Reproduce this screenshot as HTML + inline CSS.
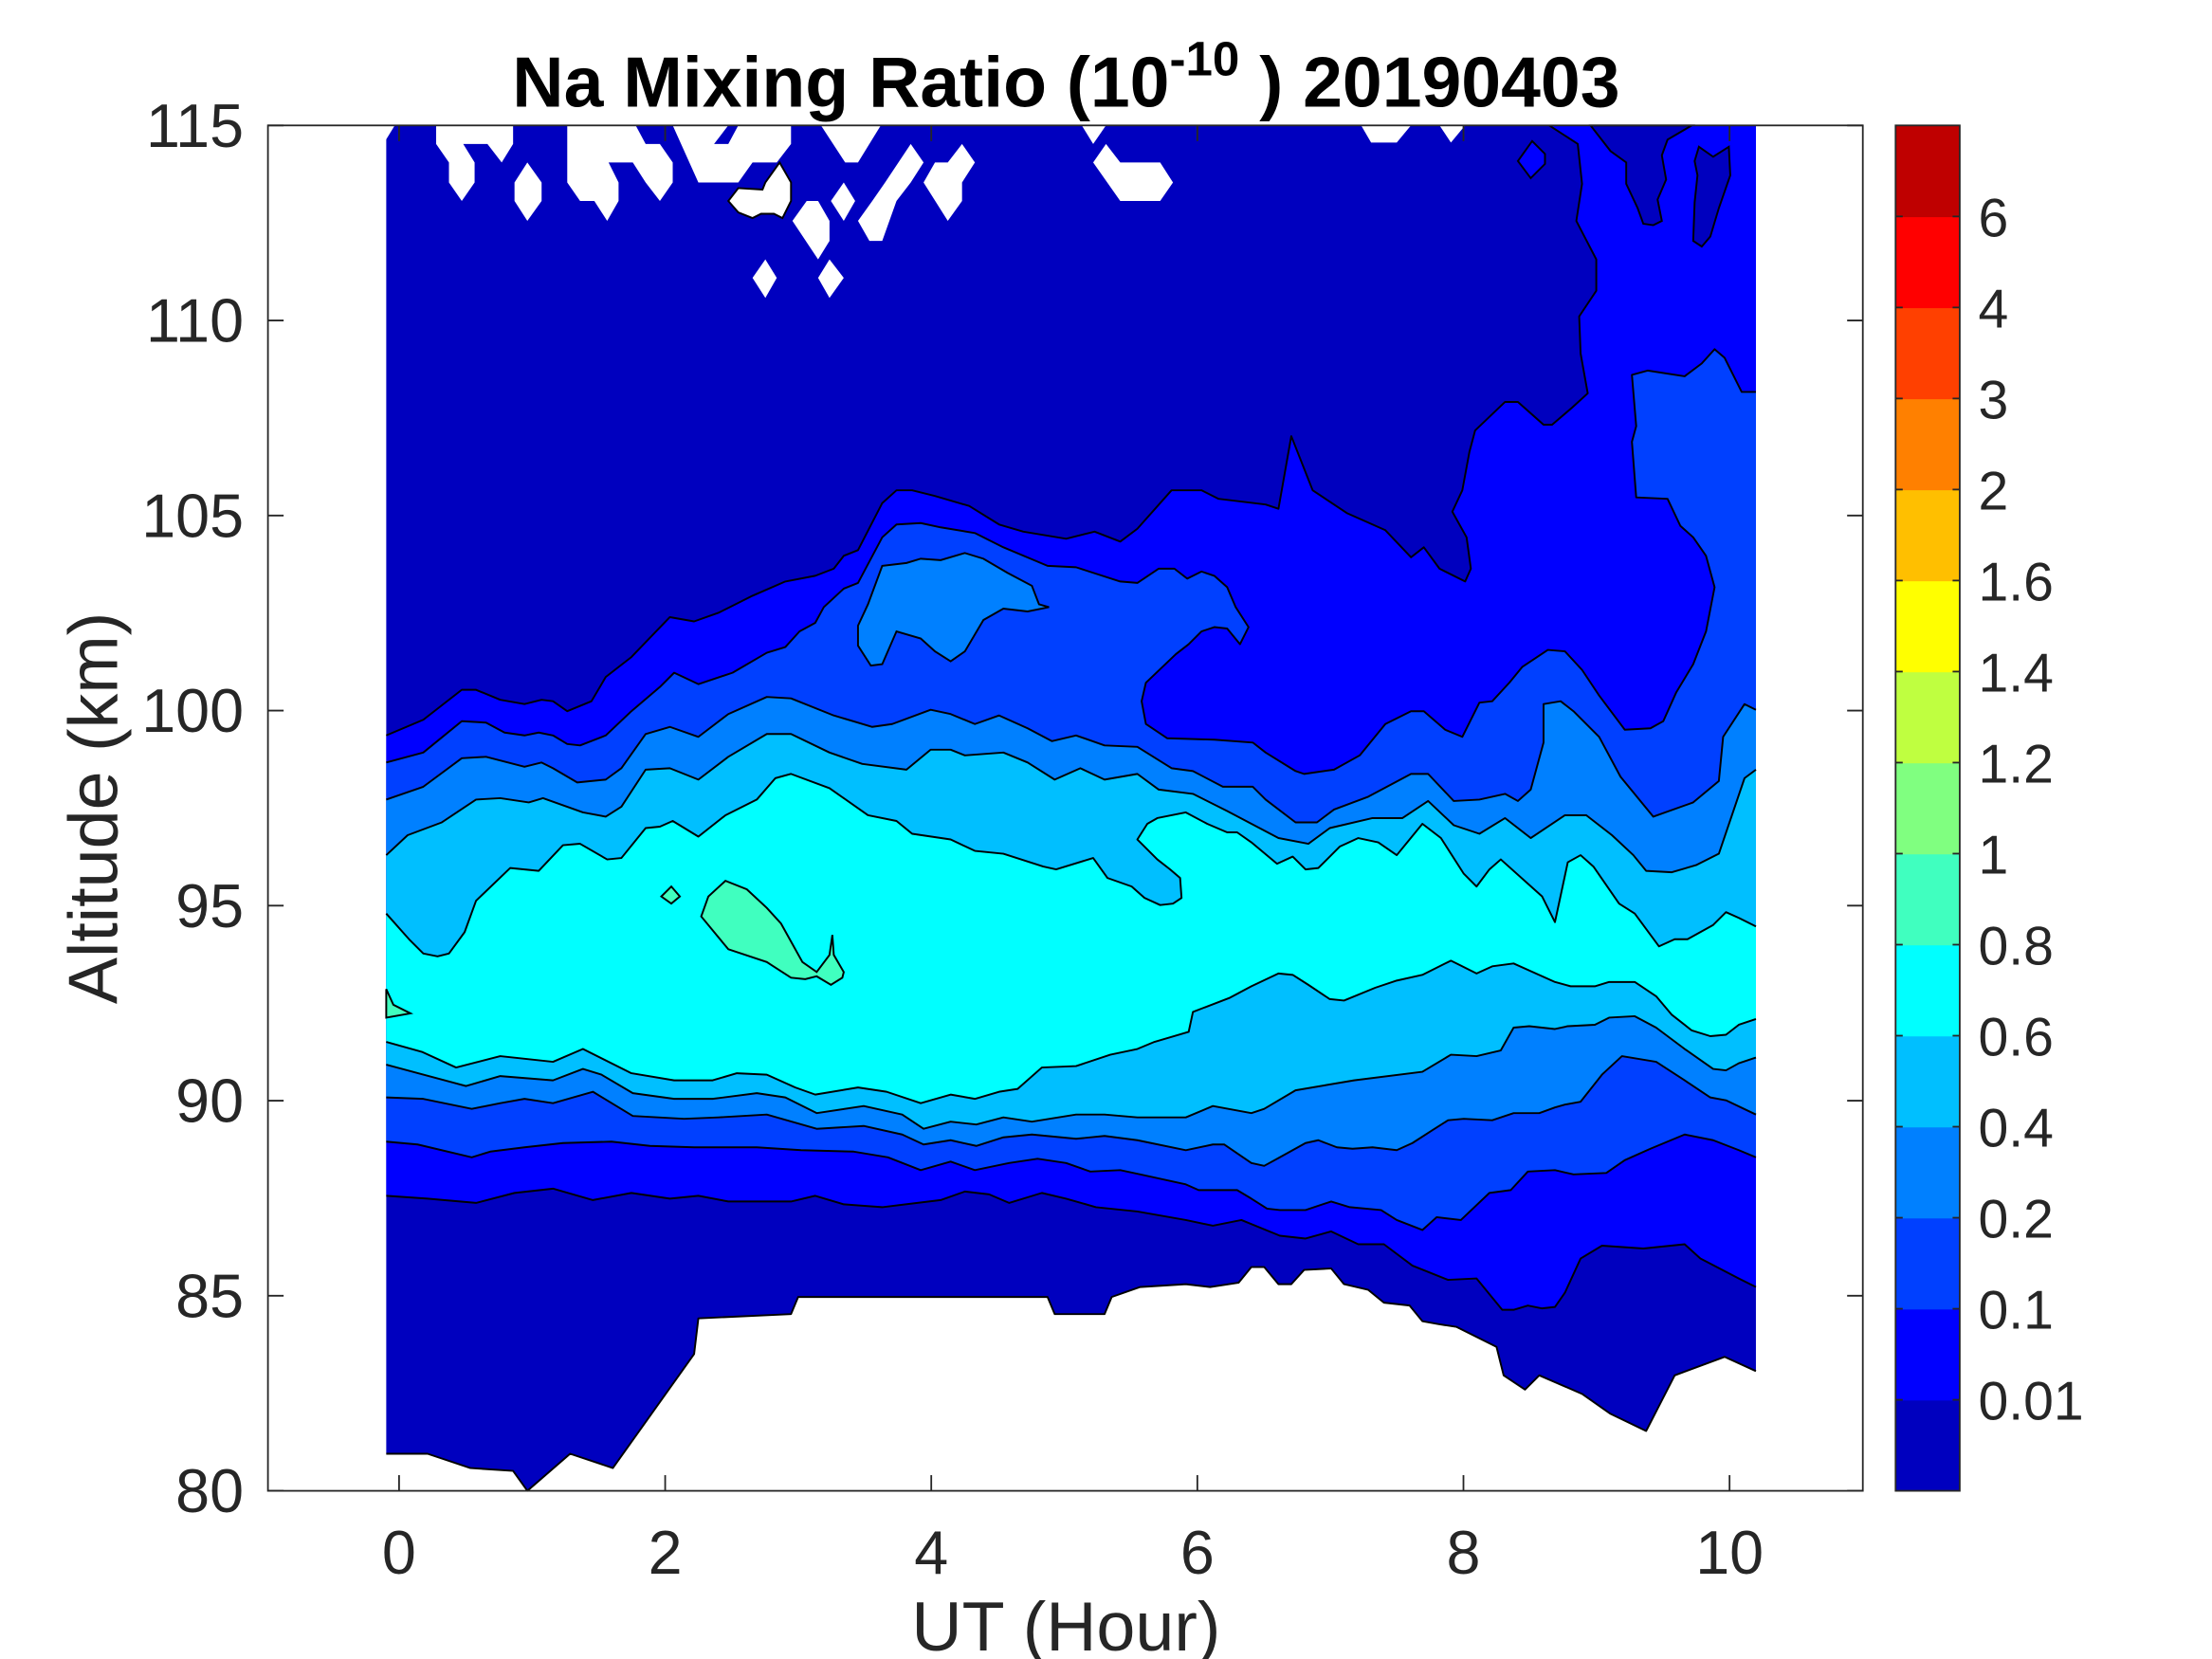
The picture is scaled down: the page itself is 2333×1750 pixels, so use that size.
<!DOCTYPE html>
<html><head><meta charset="utf-8"><style>
html,body{margin:0;padding:0;background:#fff;}
svg{display:block;}
text{font-family:"Liberation Sans",Arial,sans-serif;fill:#262626;}
</style></head><body>
<svg id="s" xmlns="http://www.w3.org/2000/svg" width="2333" height="1750" viewBox="0 0 1552 1164" preserveAspectRatio="none">
<rect x="0" y="0" width="1552" height="1164" fill="#fff"/>
<g id="plot"></g>
<g id="frame" fill="none" stroke="#262626" stroke-width="1.2">
<rect x="188" y="88" width="1119" height="958"/>
</g>
<g id="ticks" stroke="#262626" stroke-width="1.2"></g>
<g id="cbar"></g>
<text x="748" y="75" font-size="50" font-weight="bold" text-anchor="middle" style="fill:#000">Na Mixing Ratio (10<tspan font-size="34" dy="-22">-10</tspan><tspan dy="22"> ) 20190403</tspan></text>
<text x="748" y="1158" font-size="49" text-anchor="middle">UT (Hour)</text>
<text transform="translate(82,567) rotate(-90)" font-size="49" text-anchor="middle">Altitude (km)</text>
<g id="labels" font-size="43"></g>
<g id="clabels" font-size="38"></g>
</svg>
<script>
const NS="http://www.w3.org/2000/svg";
const P=s=>s.trim().split(/\s+/).map(p=>p.split(',').map(Number));
const plot=document.getElementById('plot');
function el(tag,attrs,parent){const e=document.createElementNS(NS,tag);for(const k in attrs)e.setAttribute(k,attrs[k]);(parent||plot).appendChild(e);return e;}
const str=a=>a.map(p=>p.join(',')).join(' ');
function poly(up,low,fill){el('polygon',{points:str(up.concat(low.slice().reverse())),fill:fill});}
function line(a){el('polyline',{points:str(a),fill:'none',stroke:'#000','stroke-width':1.3,'stroke-linejoin':'round'});}
function shape(a,fill,stroke){const o={points:str(a),fill:fill};if(stroke){o.stroke='#000';o['stroke-width']=1.3;}el('polygon',o);}

const BOTTOM=P("271,1020 300,1020 330,1030 360,1032 370,1046 400,1020 430,1030 487,950 490,925 555,922 560,910 735,910 740,922 775,922 780,910 800,903 832,901 849,903 869,900 878,889 887,889 897,901 906,901 915,891 934,890 943,901 960,905 971,914 989,916 998,927 1009,929 1022,931 1050,945 1055,965 1070,975 1080,965 1110,978 1130,992 1155,1004 1175,965 1210,952 1232,962");
const TOP0=P("271,516 297,505 324,484 334,484 351,491 368,494 380,491 388,492 398,499 415,492 425,475 443,461 470,433 487,436 504,430 528,418 551,408 572,404 585,399 592,390 602,386 619,353 629,344 640,344 656,348 680,355 701,368 718,373 748,378 768,373 786,380 798,371 822,344 843,344 855,350 888,354 897,357 906,306 921,344 945,360 972,372 990,391 999,384 1010,399 1028,408 1032,399 1029,377 1019,359 1026,344 1031,317 1035,302 1056,282 1065,282 1083,298 1089,298 1103,286 1114,276 1109,248 1108,222 1120,204 1120,182 1106,155 1110,129 1107,101 1087,88 1232,88");
const TOP1=P("271,535 297,528 324,506 341,507 354,514 368,516 378,514 388,516 398,522 407,523 425,516 443,499 463,482 473,472 490,480 514,472 538,458 551,454 561,443 572,437 578,426 592,413 602,409 619,377 629,368 646,367 660,370 684,374 704,384 735,397 755,398 786,408 798,409 813,399 824,399 833,406 843,401 852,404 861,412 867,426 876,440 870,452 861,441 852,440 843,443 834,452 825,459 804,479 801,492 804,508 819,518 852,519 879,521 888,528 909,541 915,543 936,540 954,530 972,508 990,499 999,499 1014,512 1026,517 1038,493 1047,492 1059,479 1068,468 1086,456 1098,457 1110,470 1122,488 1140,512 1158,511 1167,506 1176,486 1188,466 1197,443 1203,412 1197,390 1188,377 1179,369 1170,350 1148,349 1145,310 1148,299 1145,263 1156,260 1182,264 1194,255 1203,245 1210,251 1222,275 1232,275");
const TOP2=P("271,561 297,552 324,532 341,531 368,538 380,535 388,539 405,549 425,547 436,539 453,515 470,510 490,517 511,501 538,489 555,490 585,502 612,510 626,508 653,498 667,501 684,508 701,502 721,511 738,520 755,516 775,523 798,524 822,539 837,541 858,552 879,552 888,561 909,577 924,577 936,568 960,559 990,543 1002,543 1020,562 1038,561 1056,557 1065,562 1074,554 1083,521 1083,494 1095,492 1104,499 1122,517 1137,545 1160,573 1188,563 1206,548 1209,517 1224,494 1232,498");
const TOP3=P("271,600 286,586 310,577 334,561 351,560 371,563 381,560 409,570 425,573 436,566 453,540 470,539 490,547 511,531 538,515 555,515 582,528 605,536 636,540 653,526 667,526 677,530 704,528 721,535 740,547 758,539 775,547 798,543 813,554 837,557 861,569 897,588 918,592 933,581 963,574 984,574 1002,562 1020,579 1038,585 1056,574 1074,588 1098,572 1113,572 1131,586 1146,600 1155,611 1173,612 1190,607 1206,599 1224,546 1232,540");
const TOP4=P("271,641 287,659 297,669 307,671 315,669 326,654 334,632 358,609 378,611 395,593 407,592 426,603 436,602 453,581 463,580 472,576 490,587 509,572 531,561 544,546 555,543 582,553 609,572 629,576 640,585 667,589 684,597 704,599 732,608 741,610 767,602 777,616 794,622 803,630 814,635 823,634 829,630 828,616 821,610 812,603 798,589 805,578 812,574 832,570 847,578 861,584 868,584 878,591 896,606 907,601 916,610 925,609 940,594 953,588 967,591 980,600 998,578 1011,588 1027,613 1036,622 1045,610 1053,603 1082,629 1091,647 1100,605 1109,600 1118,608 1136,634 1147,641 1164,664 1175,659 1184,659 1202,649 1211,640 1220,644 1232,650");
const L6=P("271,731 296,738 320,749 351,741 388,745 409,736 443,753 473,758 500,758 517,753 538,754 558,763 572,768 602,763 622,766 646,774 667,768 684,771 701,766 714,764 731,749 755,748 779,740 798,736 810,731 834,724 837,710 863,700 878,692 897,683 907,684 918,691 933,701 943,702 965,693 980,688 998,684 1018,674 1036,683 1047,678 1062,676 1091,689 1102,692 1119,692 1129,689 1147,689 1162,699 1173,712 1187,723 1200,727 1211,726 1220,719 1232,715");
const L4=P("271,747 297,754 327,762 351,755 388,758 409,750 422,754 444,767 473,771 500,771 531,767 551,770 573,781 606,776 633,782 648,792 667,787 685,789 704,784 724,787 755,782 775,782 798,784 832,784 851,776 878,781 887,778 909,765 950,758 998,752 1018,740 1036,741 1053,737 1062,721 1073,720 1091,722 1100,720 1119,719 1129,714 1147,713 1162,721 1182,736 1202,750 1211,751 1220,746 1232,742");
const L2=P("271,770 297,771 331,778 351,774 368,771 388,774 416,766 444,783 480,785 504,784 538,782 573,792 606,790 633,796 648,803 667,800 685,804 704,798 724,796 755,799 775,797 798,800 832,807 851,803 859,803 878,816 887,818 898,812 916,802 925,800 938,805 949,806 963,805 980,807 991,802 1005,793 1016,786 1027,785 1047,786 1062,781 1080,781 1091,777 1098,775 1109,773 1124,754 1138,741 1162,745 1182,758 1200,770 1211,772 1232,782");
const L1=P("271,801 293,803 331,812 344,808 368,805 395,802 429,801 456,804 487,805 531,805 562,807 599,808 623,812 646,821 667,815 684,821 708,816 728,813 748,816 765,822 786,821 800,824 832,831 841,835 868,835 878,841 889,848 898,849 916,849 934,843 947,847 969,849 980,856 998,863 1008,854 1025,856 1045,837 1060,835 1072,822 1091,821 1104,824 1127,823 1140,814 1158,806 1182,796 1202,800 1220,807 1232,812");
const L0=P("271,839 300,841 334,844 361,837 388,834 416,842 443,837 470,841 490,839 511,843 555,843 572,839 592,845 619,847 660,842 677,836 694,838 708,844 731,837 748,841 769,847 798,850 832,856 851,860 871,856 898,867 916,869 934,864 953,873 971,873 991,888 1016,898 1036,897 1054,919 1062,919 1072,916 1082,918 1091,917 1098,907 1109,883 1124,874 1153,876 1182,873 1193,883 1220,897 1232,903");

poly(P("271,88 1232,88"),BOTTOM,'#0000BF');
poly(TOP0,L0,'#0000FF');
poly(TOP1,L1,'#0040FF');
poly(TOP2,L2,'#0080FF');
poly(TOP3,L4,'#00BFFF');
poly(TOP4,L6,'#00FFFF');
shape(P("602,439 609,424 619,397 636,395 646,392 660,393 677,388 690,392 707,402 724,411 729,424 736,426 721,429 704,427 690,435 677,457 667,464 656,457 646,448 629,443 619,466 611,467 602,453"),'#0080FF',true);
shape(P("509,618 524,624 538,637 548,648 563,675 573,682 582,670 584,656 585,670 592,682 591,686 583,691 573,685 565,687 555,686 538,675 511,666 492,643 497,629"),'#40FFBF',true);
shape(P("471,622 477,629 471,634 464,629"),'#40FFBF',true);
shape(P("271,694 276,705 288,711 271,714"),'#40FFBF',true);
[TOP0.slice(0,-1),TOP1,TOP2,TOP3,TOP4,L6,L4,L2,L1,L0,BOTTOM].forEach(line);
// top-right features
shape(P("1075,99 1084,108 1084,115 1074,125 1065,113"),'#0000FF',true);
shape(P("1116,88 1187,88 1170,98 1166,109 1169,126 1163,140 1166,155 1160,158 1153,157 1149,146 1141,129 1141,114 1130,106"),'#0000BF',true);
shape(P("1192,103 1202,110 1213,103 1214,123 1206,146 1200,166 1194,173 1188,169 1189,142 1191,123 1189,113"),'#0000BF',true);
const W=["269,88 277,88 269,101",
"306,88 360,88 360,101 352,114 342,101 325,101 333,114 333,128 324,141 315,128 315,114 306,101",
"370,114 380,128 380,141 370,155 361,141 361,128",
"398,88 446,88 453,101 463,101 472,114 472,128 463,141 453,128 444,114 427,114 434,128 434,141 426,155 417,141 407,141 398,128",
"472,88 511,88 501,101 511,101 518,88 555,88 555,101 545,114 528,114 518,128 490,128",
"518,132 535,133 537,128 547,114 555,128 555,141 549,153 543,150 534,150 528,153 518,149 511,141",
"556,155 566,141 574,141 582,155 582,169 574,182",
"592,128 600,141 592,155 583,141",
"576,88 618,88 602,114 593,114",
"639,101 648,114 639,128 629,141 619,169 610,169 602,155 612,141 621,128",
"675,101 684,114 675,128 675,141 665,155 648,128 656,114 665,114",
"759,88 776,88 767,101",
"776,101 786,114 814,114 823,128 814,141 786,141 767,114",
"537,182 545,195 537,209 528,195",
"582,182 592,195 582,209 574,195",
"955,88 990,88 980,100 962,100","1010,88 1028,88 1018,100"];
W.forEach((w,i)=>shape(P(w),'#fff',i==5));

const T=document.getElementById('ticks'),LB=document.getElementById('labels'),CL=document.getElementById('clabels');
function tx(x,y,s,anchor,parent){const t=el('text',{x:x,y:y,'text-anchor':anchor},parent);t.textContent=s;}
for(let h=0;h<=10;h+=2){const x=280+h*93.35;el('line',{x1:x,y1:1046,x2:x,y2:1035},T);el('line',{x1:x,y1:88,x2:x,y2:99},T);tx(x,1104,String(h),'middle',LB);}
for(let v=80;v<=115;v+=5){const y=88+(115-v)*27.371;el('line',{x1:188,y1:y,x2:199,y2:y},T);el('line',{x1:1307,y1:y,x2:1296,y2:y},T);tx(171,y+15,String(v),'end',LB);}
const CB=document.getElementById('cbar');
const cols=['#0000BF','#0000FF','#0040FF','#0080FF','#00BFFF','#00FFFF','#40FFBF','#80FF80','#BFFF40','#FFFF00','#FFBF00','#FF8000','#FF4000','#FF0000','#BF0000'];
const bh=958/15;
cols.forEach((c,i)=>el('rect',{x:1330,y:1046-(i+1)*bh,width:45,height:bh+0.5,fill:c},CB));
el('rect',{x:1330,y:88,width:45,height:958,fill:'none',stroke:'#262626','stroke-width':1.2},CB);
const labs=['0.01','0.1','0.2','0.4','0.6','0.8','1','1.2','1.4','1.6','2','3','4','6'];
labs.forEach((s,i)=>{const y=1046-(i+1)*bh;el('line',{x1:1330,y1:y,x2:1335,y2:y,stroke:'#262626','stroke-width':1.2},CB);el('line',{x1:1375,y1:y,x2:1370,y2:y,stroke:'#262626','stroke-width':1.2},CB);tx(1388,y+14,s,'start',CL);});
</script>
</body></html>
